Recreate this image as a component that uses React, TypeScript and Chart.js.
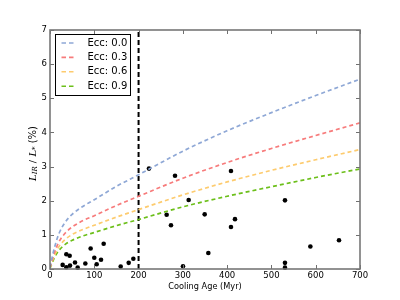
import React, { useEffect, useRef } from "react";
import { Chart, registerables } from "chart.js";

Chart.register(...registerables);

// Model curves
const modelAge = [0, 5, 10, 20, 35, 50, 75, 100, 150, 200, 300, 400, 500, 600, 700];
const ecc00 = [0.05, 0.35, 0.62, 1.03, 1.38, 1.6, 1.84, 2.03, 2.42, 2.76, 3.45, 4.05, 4.58, 5.08, 5.56];
const ecc03 = [0.04, 0.27, 0.48, 0.79, 1.06, 1.23, 1.42, 1.56, 1.86, 2.13, 2.66, 3.12, 3.53, 3.91, 4.28];
const ecc06 = [0.03, 0.22, 0.39, 0.65, 0.87, 1.01, 1.16, 1.28, 1.52, 1.74, 2.17, 2.55, 2.89, 3.2, 3.5];
const ecc09 = [0.02, 0.18, 0.33, 0.54, 0.73, 0.84, 0.97, 1.07, 1.27, 1.45, 1.82, 2.13, 2.41, 2.68, 2.93];

const curveLabels = ["Ecc: 0.0", "Ecc: 0.3", "Ecc: 0.6", "Ecc: 0.9"];
const curveColors = ["#8fa8d6", "#f77b7b", "#fdcb6e", "#6cbf1a"];

// Observed white dwarfs
const starAge = [28.6, 36.9, 36.9, 44.4, 45.2, 56.5, 62.5, 79.8, 91.8, 100, 105.4, 115.2, 121.2, 159.6, 177.7, 188.2, 223.5, 263.4, 273.2, 282.3, 300.3, 313.1, 349.3, 357.5, 408.7, 408.7, 417.7, 530.6, 530.6, 530.6, 587.9, 652.6];
const starLir = [0.12, 0.43, 0.05, 0.39, 0.1, 0.19, 0.04, 0.16, 0.6, 0.33, 0.14, 0.27, 0.74, 0.07, 0.18, 0.3, 2.94, 1.59, 1.28, 2.73, 0.08, 2.02, 1.6, 0.47, 2.87, 1.23, 1.46, 2.01, 0.18, 0.04, 0.66, 0.84];

const cutoffAge = 200;
const xTicks = [0, 100, 200, 300, 400, 500, 600, 700];
const yTicks = [0, 1, 2, 3, 4, 5, 6, 7];

const SANS = "'DejaVu Sans', sans-serif";
const SERIF = "'DejaVu Serif', serif";
const DASH = [4, 3];

const framePlugin = {
  id: "framePlugin",
  afterDraw(chart: any) {
    const { ctx, chartArea: a, scales } = chart;
    const xs = scales.x;
    const ys = scales.y;
    ctx.save();
    // ticks inward on all sides
    ctx.strokeStyle = "#707070";
    ctx.lineWidth = 1;
    ctx.setLineDash([]);
    xTicks.forEach((t) => {
      const px = Math.round(xs.getPixelForValue(t)) + 0.5;
      ctx.beginPath();
      ctx.moveTo(px, a.bottom);
      ctx.lineTo(px, a.bottom - 4);
      ctx.moveTo(px, a.top);
      ctx.lineTo(px, a.top + 4);
      ctx.stroke();
    });
    yTicks.forEach((t) => {
      const py = Math.round(ys.getPixelForValue(t)) + 0.5;
      ctx.beginPath();
      ctx.moveTo(a.left, py);
      ctx.lineTo(a.left + 4, py);
      ctx.moveTo(a.right, py);
      ctx.lineTo(a.right - 4, py);
      ctx.stroke();
    });
    // frame
    ctx.lineWidth = 1.6;
    ctx.strokeStyle = "#777777";
    ctx.strokeRect(a.left, a.top, a.right - a.left, a.bottom - a.top);

    // legend
    const lx = 55.5, ly = 34.5, lw = 75, lh = 61;
    ctx.fillStyle = "#ffffff";
    ctx.fillRect(lx, ly, lw, lh);
    ctx.lineWidth = 1;
    ctx.strokeStyle = "#000000";
    ctx.strokeRect(lx, ly, lw, lh);
    ctx.font = `10px ${SANS}`;
    ctx.textBaseline = "middle";
    ctx.textAlign = "left";
    curveLabels.forEach((lab, i) => {
      const yy = 43 + i * 14.4;
      ctx.strokeStyle = curveColors[i];
      ctx.lineWidth = 1.6;
      ctx.setLineDash([4.5, 3]);
      ctx.beginPath();
      ctx.moveTo(61.5, yy);
      ctx.lineTo(76, yy);
      ctx.stroke();
      ctx.setLineDash([]);
      ctx.fillStyle = "#000000";
      ctx.fillText(lab, 87.5, yy);
    });

    // x axis title
    ctx.font = `8.2px ${SANS}`;
    ctx.textAlign = "center";
    ctx.fillStyle = "#000";
    ctx.fillText("Cooling Age (Myr)", (a.left + a.right) / 2, 287);

    // y axis title (mathtext-like)
    const parts = [
      { t: "L", f: `italic 10px ${SERIF}`, dy: 0 },
      { t: "IR", f: `italic 7px ${SERIF}`, dy: 2.5 },
      { t: " / ", f: `10px ${SERIF}`, dy: 0 },
      { t: "L", f: `italic 10px ${SERIF}`, dy: 0 },
      { t: "*", f: `italic 7px ${SERIF}`, dy: 2.5 },
      { t: " (%)", f: `10px ${SANS}`, dy: 0 },
    ];
    let total = 0;
    const widths = parts.map((p) => {
      ctx.font = p.f;
      const w = ctx.measureText(p.t).width;
      total += w;
      return w;
    });
    ctx.translate(33, (a.top + a.bottom) / 2 + 4);
    ctx.rotate(-Math.PI / 2);
    ctx.textAlign = "left";
    ctx.textBaseline = "middle";
    let cx = -total / 2;
    parts.forEach((p, i) => {
      ctx.font = p.f;
      ctx.fillText(p.t, cx, p.dy);
      cx += widths[i];
    });
    ctx.restore();
  },
};

export default function App() {
  const ref = useRef<HTMLCanvasElement | null>(null);
  useEffect(() => {
    document.body.style.margin = "0";
    if (!ref.current) return;
    const curves = [ecc00, ecc03, ecc06, ecc09];
    const datasets: any[] = curves.map((vals, i) => ({
      type: "line",
      label: curveLabels[i],
      data: modelAge.map((x, j) => ({ x, y: vals[j] })),
      borderColor: curveColors[i],
      borderWidth: 1.7,
      borderDash: DASH,
      pointRadius: 0,
      fill: false,
      cubicInterpolationMode: "monotone",
    }));
    datasets.push({
      type: "line",
      label: "cutoff",
      data: [
        { x: cutoffAge, y: 0 },
        { x: cutoffAge, y: 7 },
      ],
      borderColor: "#000000",
      borderWidth: 2,
      borderDash: [5, 3],
      pointRadius: 0,
      fill: false,
    });
    datasets.push({
      type: "scatter",
      label: "stars",
      data: starAge.map((x, j) => ({ x, y: starLir[j] })),
      backgroundColor: "#000000",
      borderColor: "#000000",
      pointRadius: 2.3,
      borderWidth: 0,
      clip: false,
    });
    const chart = new Chart(ref.current, {
      type: "scatter",
      data: { datasets },
      options: {
        animation: false,
        responsive: false,
        maintainAspectRatio: false,
        devicePixelRatio: 1,
        layout: { padding: { top: 30, right: 40, left: 0, bottom: 0 } },
        plugins: { legend: { display: false }, tooltip: { enabled: false } },
        scales: {
          x: {
            type: "linear",
            min: 0,
            max: 700,
            afterBuildTicks: (s: any) => {
              s.ticks = xTicks.map((v) => ({ value: v }));
            },
            afterFit: (s: any) => {
              s.height = 31;
            },
            ticks: { font: { size: 8.5, family: SANS }, color: "#000", padding: 2, maxRotation: 0, autoSkip: false },
            grid: { display: false, drawTicks: false },
            border: { display: false },
          },
          y: {
            type: "linear",
            min: 0,
            max: 7,
            afterBuildTicks: (s: any) => {
              s.ticks = yTicks.map((v) => ({ value: v }));
            },
            afterFit: (s: any) => {
              s.width = 50;
            },
            ticks: { font: { size: 8.5, family: SANS }, color: "#000", padding: 3 },
            grid: { display: false, drawTicks: false },
            border: { display: false },
          },
        },
      },
      plugins: [framePlugin],
    });
    return () => chart.destroy();
  }, []);
  return (
    <div style={{ width: 400, height: 300 }}>
      <canvas ref={ref} width={400} height={300} style={{ display: "block" }} />
    </div>
  );
}
